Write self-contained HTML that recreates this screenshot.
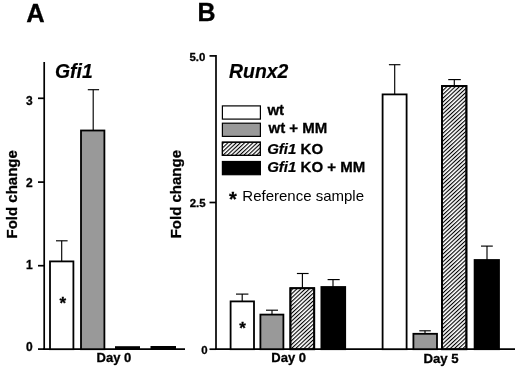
<!DOCTYPE html>
<html>
<head>
<meta charset="utf-8">
<style>
html,body{margin:0;padding:0;background:#fff;}
body{width:520px;height:370px;overflow:hidden;}
svg{display:block;}
text{font-family:"Liberation Sans",Arial,Helvetica,sans-serif;fill:#000;}
.b{font-weight:bold;stroke:#000;stroke-width:0.3px;}
.bi{font-weight:bold;font-style:italic;stroke:#000;stroke-width:0.2px;}
</style>
</head>
<body>
<svg width="520" height="370" viewBox="0 0 520 370">
<defs>
<pattern id="hatch" width="10" height="2.85" patternUnits="userSpaceOnUse" patternTransform="rotate(-43)">
<rect x="0" y="0" width="10" height="1.1" fill="#000"/>
</pattern>
</defs>

<!-- ============ Panel A ============ -->
<text class="b" x="26.3" y="21.6" font-size="25.5">A</text>
<text class="bi" x="55" y="78" font-size="19.4">Gfi1</text>

<!-- y axis -->
<g stroke="#000" stroke-width="1.7" fill="none">
<line x1="44.2" y1="62" x2="44.2" y2="350"/>
<line x1="38" y1="98.3" x2="44.2" y2="98.3"/>
<line x1="38" y1="182.1" x2="44.2" y2="182.1"/>
<line x1="38" y1="265.7" x2="44.2" y2="265.7"/>
<line x1="38" y1="349.1" x2="44.2" y2="349.1"/>
<line x1="43" y1="349.2" x2="185" y2="349.2"/>
</g>
<g class="b" font-size="12" text-anchor="end">
<text x="32.6" y="104.5">3</text>
<text x="32.6" y="186.9">2</text>
<text x="32.6" y="268.8">1</text>
<text x="32.6" y="351.4">0</text>
</g>
<text class="b" font-size="15" transform="translate(17.2,238.5) rotate(-90)">Fold change</text>

<!-- bars A -->
<g stroke="#000" stroke-width="1.8">
<rect x="50" y="261.4" width="23.4" height="87.8" fill="#fff"/>
<rect x="81" y="130.5" width="23.4" height="218.7" fill="#999"/>
</g>
<rect x="115" y="346.2" width="25" height="3" fill="#000"/>
<rect x="150.5" y="346" width="25.5" height="3" fill="#000"/>
<g stroke="#000" stroke-width="1.15">
<line x1="61.7" y1="261" x2="61.7" y2="240.8"/>
<line x1="56" y1="240.8" x2="67.6" y2="240.8"/>
<line x1="93.2" y1="130" x2="93.2" y2="89.7"/>
<line x1="87.8" y1="89.7" x2="99.1" y2="89.7"/>
</g>
<text class="b" font-size="17" x="62.8" y="308.8" text-anchor="middle">*</text>
<text class="b" font-size="13" x="96.6" y="362">Day 0</text>

<!-- ============ Panel B ============ -->
<text class="b" x="197.4" y="21.1" font-size="25">B</text>
<text class="bi" x="229.1" y="77.8" font-size="20.2" textLength="59.2" lengthAdjust="spacingAndGlyphs">Runx2</text>

<g stroke="#000" stroke-width="1.7" fill="none">
<line x1="216" y1="55.05" x2="216" y2="350.1"/>
<line x1="209.5" y1="55.9" x2="216" y2="55.9"/>
<line x1="209.5" y1="202.5" x2="216" y2="202.5"/>
<line x1="209.5" y1="349.2" x2="216" y2="349.2"/>
<line x1="215" y1="349.2" x2="515" y2="349.2"/>
</g>
<g class="b" font-size="11.4" text-anchor="end">
<text x="205.3" y="61.3">5.0</text>
<text x="205.6" y="207.1">2.5</text>
<text x="207.5" y="354.3">0</text>
</g>
<text class="b" font-size="15" transform="translate(181,238.3) rotate(-90)">Fold change</text>

<!-- legend -->
<g stroke="#000" stroke-width="1.2">
<rect x="222.4" y="105.9" width="38" height="13.2" fill="#fff"/>
<rect x="222.4" y="123.2" width="38" height="13.2" fill="#999"/>
<rect x="222.4" y="142.2" width="38" height="13.2" fill="#fff"/>
<rect x="222.4" y="142.2" width="38" height="13.2" fill="url(#hatch)"/>
<rect x="222.4" y="161.5" width="38" height="13.2" fill="#000"/>
</g>
<g font-size="15">
<text class="b" x="267.4" y="114.6">wt</text>
<text class="b" x="268.5" y="133.1">wt + MM</text>
<text x="267.2" y="153.7"><tspan class="bi">Gfi1</tspan><tspan class="b"> KO</tspan></text>
<text x="267.2" y="171.8"><tspan class="bi">Gfi1</tspan><tspan class="b"> KO + MM</tspan></text>
</g>
<text class="b" font-size="20" x="229" y="205.7">*</text>
<text font-size="15" x="242.3" y="200.5">Reference sample</text>

<!-- bars B -->
<g stroke="#000" stroke-width="1.8">
<rect x="230.6" y="301.4" width="23.4" height="47.8" fill="#fff"/>
<rect x="260.4" y="314.6" width="23" height="34.6" fill="#999"/>
<rect x="290.4" y="288.2" width="23.8" height="61" fill="#fff"/>
<rect x="290.4" y="288.2" width="23.8" height="61" fill="url(#hatch)"/>
<rect x="321.4" y="287" width="23.8" height="62.2" fill="#000"/>

<rect x="382.6" y="94.4" width="24" height="254.8" fill="#fff"/>
<rect x="413.4" y="333.8" width="23.6" height="15.4" fill="#999"/>
<rect x="442" y="86" width="24.4" height="263.2" fill="#fff"/>
<rect x="442" y="86" width="24.4" height="263.2" fill="url(#hatch)"/>
<rect x="474.6" y="260" width="24.4" height="89.2" fill="#000"/>
</g>
<g stroke="#000" stroke-width="1.15">
<line x1="242.2" y1="301" x2="242.2" y2="294.1"/>
<line x1="236" y1="294.1" x2="248.4" y2="294.1"/>
<line x1="272" y1="314" x2="272" y2="310.2"/>
<line x1="266" y1="310.2" x2="278" y2="310.2"/>
<line x1="302.4" y1="288" x2="302.4" y2="273.5"/>
<line x1="296.9" y1="273.5" x2="308.6" y2="273.5"/>
<line x1="333" y1="287" x2="333" y2="279.6"/>
<line x1="327.6" y1="279.6" x2="339.7" y2="279.6"/>

<line x1="394.7" y1="94" x2="394.7" y2="64.7"/>
<line x1="388.9" y1="64.7" x2="400.4" y2="64.7"/>
<line x1="425" y1="333.5" x2="425" y2="330.8"/>
<line x1="419.3" y1="330.8" x2="430.8" y2="330.8"/>
<line x1="454.3" y1="86" x2="454.3" y2="79.6"/>
<line x1="448.2" y1="79.6" x2="460.8" y2="79.6"/>
<line x1="487" y1="260" x2="487" y2="246.1"/>
<line x1="481" y1="246.1" x2="492.8" y2="246.1"/>
</g>
<text class="b" font-size="17" x="242.6" y="333.8" text-anchor="middle">*</text>
<text class="b" font-size="13" x="271.3" y="362.2">Day 0</text>
<text class="b" font-size="13.2" x="423.4" y="362.7">Day 5</text>
</svg>
</body>
</html>
